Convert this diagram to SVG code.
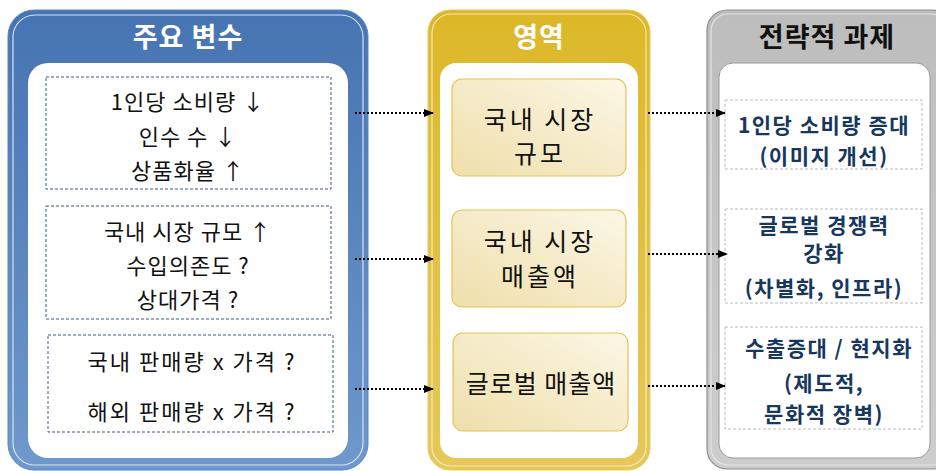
<svg xmlns="http://www.w3.org/2000/svg" width="936" height="471" viewBox="0 0 936 471">
<defs>
<linearGradient id="gBlue" x1="0" y1="0" x2="0" y2="1"><stop offset="0" stop-color="#4674b2"/><stop offset="1" stop-color="#6f98cb"/></linearGradient>
<linearGradient id="gGold" x1="0" y1="0" x2="0" y2="1"><stop offset="0" stop-color="#dcb828"/><stop offset="1" stop-color="#e6c85a"/></linearGradient>
<linearGradient id="gGray" x1="0" y1="0" x2="0" y2="1"><stop offset="0" stop-color="#bdbdbd"/><stop offset="1" stop-color="#cdcdcd"/></linearGradient>
<linearGradient id="gCream" x1="1" y1="0" x2="0" y2="1"><stop offset="0" stop-color="#fcf7e6"/><stop offset="1" stop-color="#efdfab"/></linearGradient>
<marker id="arr" markerWidth="10" markerHeight="8" refX="9" refY="4" orient="auto" markerUnits="userSpaceOnUse"><path d="M0,0 L10,4 L0,8 Z" fill="#000"/></marker>
<style>
text{font-family:"Noto Sans CJK KR","Noto Sans",sans-serif;text-anchor:middle;dominant-baseline:central}
.title{font-size:27px;font-weight:bold;fill:#fff;letter-spacing:1px}
.var{font-size:22px;fill:#111;letter-spacing:1px}
.wide{letter-spacing:2px}
.area{font-size:25px;fill:#111;letter-spacing:3px}
.task{font-size:21px;font-weight:bold;fill:#17375e;letter-spacing:1.5px}
.dashB{fill:none;stroke:#3c5a8a;stroke-width:1;stroke-dasharray:3 2}
.dashG{fill:none;stroke:#bcbcbc;stroke-width:1;stroke-dasharray:3 2}
.cream{fill:url(#gCream);stroke:#e3c453;stroke-width:1.2}
.conn{stroke:#000;stroke-width:2;stroke-dasharray:2 2;fill:none;marker-end:url(#arr)}
</style>
</defs>

<g id="panel-variables">
<rect x="8" y="10" width="360" height="460" rx="26" fill="url(#gBlue)" stroke="#5a85bf" stroke-width="1"/>
<rect x="13" y="15" width="350" height="450" rx="22" fill="none" stroke="#d6e2f3" stroke-width="1.2"/>
<rect x="28" y="63" width="320" height="395" rx="20" fill="#fff"/>
<text class="title" x="188" y="35">주요 변수</text>
</g>
<g id="var-box-1">
<rect class="dashB" x="46" y="77" width="285" height="112"/>
<text class="var" x="188" y="100">1인당 소비량 ↓</text>
<text class="var" x="188" y="135">인수 수 ↓</text>
<text class="var" x="188" y="169">상품화율 ↑</text>
</g>
<g id="var-box-2">
<rect class="dashB" x="46" y="206" width="285" height="113"/>
<text class="var" x="188" y="230">국내 시장 규모 ↑</text>
<text class="var" x="188" y="264">수입의존도 ?</text>
<text class="var" x="188" y="298">상대가격 ?</text>
</g>
<g id="var-box-3">
<rect class="dashB" x="48" y="335" width="285" height="97"/>
<text class="var wide" x="192" y="360">국내 판매량 x 가격 ?</text>
<text class="var wide" x="192" y="410">해외 판매량 x 가격 ?</text>
</g>

<g id="panel-area">
<rect x="428" y="10" width="222" height="460" rx="22" fill="url(#gGold)" stroke="#e8cc60" stroke-width="1"/>
<rect x="432" y="14" width="214" height="452" rx="19" fill="none" stroke="#f6e9b5" stroke-width="1.2"/>
<rect x="440" y="63" width="198" height="395" rx="16" fill="#fff"/>
<text class="title" x="539" y="35">영역</text>
</g>
<g id="area-box-1">
<rect class="cream" x="452" y="79" width="174" height="97" rx="10"/>
<text class="area" x="540" y="118">국내 시장</text>
<text class="area" x="540" y="152">규모</text>
</g>
<g id="area-box-2">
<rect class="cream" x="452" y="210" width="174" height="97" rx="10"/>
<text class="area" x="540" y="240">국내 시장</text>
<text class="area" x="540" y="275">매출액</text>
</g>
<g id="area-box-3">
<rect class="cream" x="453" y="333" width="175" height="98" rx="10"/>
<text class="area" x="541" y="382" style="letter-spacing:1px">글로벌 매출액</text>
</g>

<g id="panel-tasks">
<rect x="707" y="10" width="245" height="459" rx="20" fill="url(#gGray)" stroke="#8e8e8e" stroke-width="1.2"/>
<rect x="711" y="14" width="237" height="451" rx="17" fill="none" stroke="#e4e4e4" stroke-width="1.2"/>
<rect x="719" y="63" width="211" height="395" rx="14" fill="#fff" stroke="#9a9a9a" stroke-width="1"/>
<text class="title" x="827" y="35" style="fill:#111">전략적 과제</text>
</g>
<g id="task-box-1">
<rect class="dashG" x="725" y="100" width="197" height="69"/>
<text class="task" x="824" y="124">1인당 소비량 증대</text>
<text class="task" x="824" y="155">(이미지 개선)</text>
</g>
<g id="task-box-2">
<rect class="dashG" x="725" y="209" width="197" height="94"/>
<text class="task" x="824" y="224">글로벌 경쟁력</text>
<text class="task" x="824" y="252">강화</text>
<text class="task" x="824" y="287">(차별화, 인프라)</text>
</g>
<g id="task-box-3">
<rect class="dashG" x="725" y="327" width="197" height="102"/>
<text class="task" x="829" y="347">수출증대 / 현지화</text>
<text class="task" x="824" y="382">(제도적,</text>
<text class="task" x="824" y="413">문화적 장벽)</text>
</g>

<g id="connectors">
<line class="conn" x1="355" y1="113" x2="433" y2="113"/>
<line class="conn" x1="355" y1="259" x2="433" y2="259"/>
<line class="conn" x1="355" y1="389" x2="433" y2="389"/>
<line class="conn" x1="648" y1="113" x2="725" y2="113"/>
<line class="conn" x1="648" y1="254" x2="727" y2="254"/>
<line class="conn" x1="648" y1="386" x2="725" y2="386"/>
</g>
</svg>
